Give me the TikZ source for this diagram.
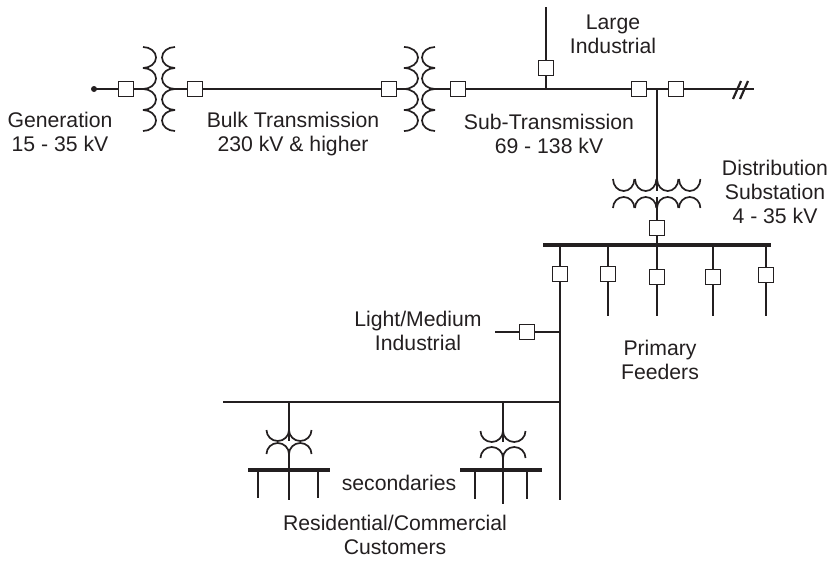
\documentclass[tikz,border=0pt]{standalone}
\usepackage{fontspec}
\setmainfont{Liberation Sans}
\definecolor{ink}{HTML}{231F20}
\tikzset{>=latex}
\tikzset{
  line/.style={ink, line width=1.7pt},
  bus/.style={ink, line width=4pt},
  brk/.style={draw=ink, line width=1.7pt, fill=white, minimum size=15pt, inner sep=0pt},
  lbl/.style={ink, align=center, font=\fontsize{21.2}{24}\selectfont}
}

\begin{document}
\begin{tikzpicture}[x=1pt, y=-1pt]
\useasboundingbox (0,0) rectangle (829,560);

% Generation and first transformer
\fill[ink] (94,89) circle (3pt);
\coordinate (gen) at (94,89);
\node[brk] (B1) at (126,89) {};
\node[brk] (B2) at (195,89) {};
\node[brk] (B3) at (389,89) {};
\node[brk] (B4) at (458,89) {};
\node[brk] (B5) at (546,68) {};
\node[brk] (B6) at (639,89) {};
\node[brk] (B7) at (676,89) {};
\node[brk] (B8) at (657,228) {};
\node[brk] (B9) at (527,332) {};

\coordinate (T1a) at (143,89);
\coordinate (T1b) at (175,89);
\coordinate (T2a) at (404,89);
\coordinate (T2b) at (435,89);

\foreach \y in {47,68,89,110} {
\draw[line] (143,\y) arc [start angle=-90, end angle=90, x radius=13, y radius=10.5];
\draw[line] (175,\y) arc [start angle=270, end angle=90, x radius=13, y radius=10.5];
\draw[line] (404,\y) arc [start angle=-90, end angle=90, x radius=14, y radius=10.5];
\draw[line] (435,\y) arc [start angle=270, end angle=90, x radius=13, y radius=10.5];
}

\draw[line] (gen) -- (B1);
\draw[line] (B1) -- (T1a);
\draw[line] (T1b) -- (B2);
\draw[line] (B2) -- (B3);
\draw[line] (B3) -- (T2a);
\draw[line] (T2b) -- (B4);
\draw[line] (B4) -- (B6);

% Large industrial tap
\coordinate (LItop) at (546,7);
\coordinate (LIbot) at (546,89);
\draw[line] (LItop) -- (B5);
\draw[line] (B5) -- (LIbot);

% Sub-transmission end
\coordinate (J1) at (657,89);
\coordinate (brkend) at (754,89);
\draw[line] (B6) -- (B7);
\draw[line] (B7) -- (brkend);
\draw[line, line width=2.2pt] (733,99) -- (741,81);
\draw[line, line width=2.2pt] (740,99) -- (748,81);

% Distribution substation
\coordinate (T3a) at (657,191);
\coordinate (T3b) at (657,197);
\foreach \x in {613,635,657,679} {
\draw[line] (\x,179) arc [start angle=180, end angle=0, x radius=10.7, y radius=12];
\draw[line] (\x,208) arc [start angle=180, end angle=360, x radius=10.7, y radius=11];
}
\draw[line] (J1) -- (T3a);
\draw[line] (T3b) -- (B8);

\coordinate (Bus1a) at (543,245);
\coordinate (Bus1b) at (771,245);
\draw[bus] (Bus1a) -- (Bus1b);
\coordinate (J2) at (657,245);
\draw[line] (B8) -- (J2);

% Primary feeders
\foreach \x/\ybrk/\yend/\name in {560/274/500/F1, 608/274/316/F2, 657/277/316/F3, 713/277/316/F4, 766/275/316/F5} {
\node[brk] (\name) at (\x,\ybrk) {};
\coordinate (\name a) at (\x,245);
\coordinate (\name b) at (\x,\yend);
\draw[line] (\name a) -- (\name);
\draw[line] (\name) -- (\name b);
}

% Light/medium tap and lateral
\coordinate (LMa) at (495,332);
\coordinate (LMb) at (560,332);
\draw[line] (LMa) -- (B9);
\draw[line] (B9) -- (LMb);
\coordinate (Laa) at (223,402);
\coordinate (Lab) at (560,402);
\draw[line] (Laa) -- (Lab);

% Distribution transformers
\foreach \x/\ya/\yb/\ra in {289/430/454/11, 503/431/458/11} {
\draw[line] (\x,402) -- (\x,{\ya+\ra});
\draw[line] (\x-22.5,\ya) arc [start angle=180, end angle=0, x radius=11.25, y radius=\ra];
\draw[line] (\x,\ya) arc [start angle=180, end angle=0, x radius=11.25, y radius=\ra];
\draw[line] (\x-22.5,\yb) arc [start angle=180, end angle=360, x radius=11.25, y radius=\ra];
\draw[line] (\x,\yb) arc [start angle=180, end angle=360, x radius=11.25, y radius=\ra];
\draw[line] (\x,\yb) -- (\x,470);
}

\draw[bus] (248,470) -- (330,470);
\draw[bus] (460,470) -- (542,470);
\foreach \x/\yend in {258/498, 289/500, 318/498, 475/499, 503/504, 527/499} {
\draw[line] (\x,470) -- (\x,\yend);
}

% Labels
\node[lbl] (gentxt) at (60,132) {Generation\\15 - 35 kV};
\node[lbl] (bulktxt) at (293,134) {Bulk Transmission\\230 kV \& higher};
\node[lbl] (subtxt) at (549,134) {Sub-Transmission\\69 - 138 kV};
\node[lbl] (largetxt) at (613,34) {Large\\Industrial};
\node[lbl] (disttxt) at (775,192) {Distribution\\Substation\\4 - 35 kV};
\node[lbl] (lighttxt) at (418,331) {Light/Medium\\Industrial};
\node[lbl] (primtxt) at (660,360) {Primary\\Feeders};
\node[lbl] (sectxt) at (399,483) {secondaries};
\node[lbl] (restxt) at (395,535) {Residential/Commercial\\Customers};

\end{tikzpicture}
\end{document}
